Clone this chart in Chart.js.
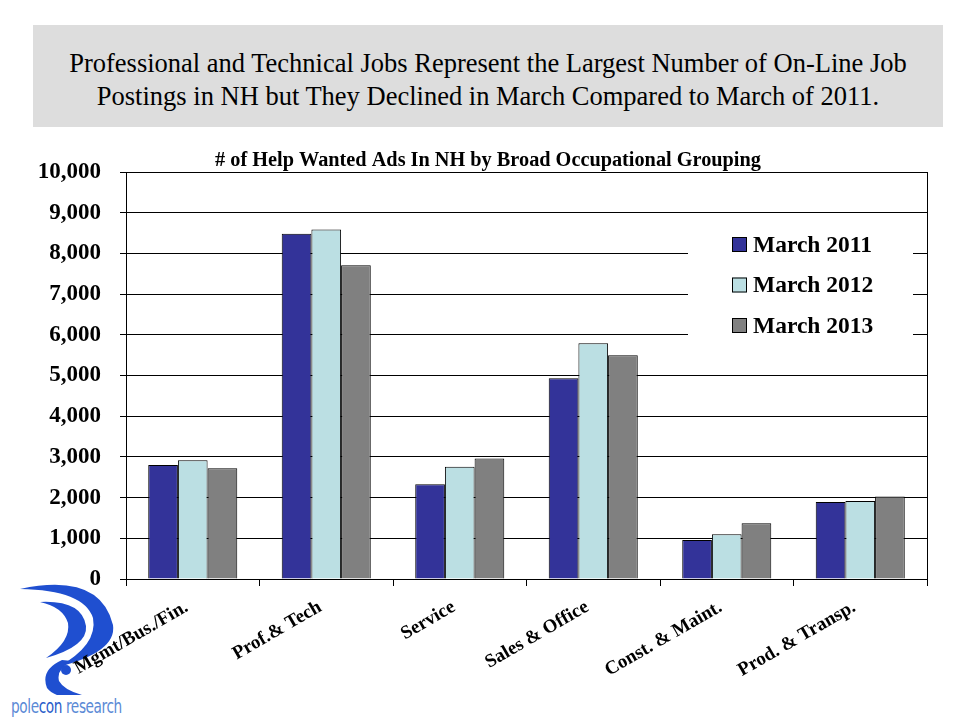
<!DOCTYPE html>
<html>
<head>
<meta charset="utf-8">
<script src="https://cdn.jsdelivr.net/npm/chart.js@4.4.0/dist/chart.umd.min.js"></script>
<style>
  html, body { margin: 0; padding: 0; background: #ffffff; }
  #page { position: relative; width: 960px; height: 720px; overflow: hidden; }
  #header {
    position: absolute; left: 33px; top: 25px; width: 910px; height: 102px;
    background: #dddddd; box-sizing: border-box; padding-top: 22px;
    font-family: "Liberation Serif", "Times New Roman", serif; font-size: 26.5px;
    line-height: 33px; text-align: center; color: #000;
  }
  #logo { position: absolute; left: 0; top: 570px; }
  #logotext {
    position: absolute; left: 11px; top: 695px;
    font-family: "Liberation Sans Narrow", "DejaVu Sans Condensed", "Open Sans", sans-serif;
    font-size: 19px; color: #5b8ad6; letter-spacing: -0.5px;
    transform: scaleX(0.8); transform-origin: left top; white-space: nowrap;
  }
  #logotext b { font-weight: normal; color: #2a5cc9; }
  canvas { position: absolute; left: 0; top: 0; }
</style>
</head>
<body>
<div id="page">
  <div id="header">Professional and Technical Jobs Represent the Largest Number of On-Line Job<br>Postings in NH but They Declined in March Compared to March of 2011.</div>
  <svg id="logo" width="140" height="125" viewBox="0 570 140 125">
    <path d="M 20 589 Q 100 572 113 625 Q 117 652 58 667 Q 98 645 93 618 Q 84 590 20 589 Z" fill="#1f4fd0"/>
    <path d="M 40 602 Q 82 600 86 626 Q 88 646 46 658 Q 71 641 68 623 Q 63 607 40 602 Z" fill="#1f4fd0"/>
    <path d="M 62 660 Q 40 670 47 688 Q 58 702 102 699 Q 66 694 59 681 Q 56 669 72 661 Z" fill="#1f4fd0"/>
    <circle cx="66" cy="670" r="5" fill="#1f4fd0"/>
  </svg>
  <div id="logotext">pole<b>con</b> research</div>
  <canvas id="c" width="960" height="720"></canvas>
</div>
<script>
const chartTitle = '# of Help Wanted Ads In NH by Broad Occupational Grouping';
const categories = ["Mgmt/Bus./Fin.", "Prof.& Tech", "Service", "Sales & Office", "Const. & Maint.", "Prod. & Transp."];
const seriesNames = ["March 2011", "March 2012", "March 2013"];
const march2011 = [2800, 8480, 2330, 4930, 960, 1890];
const march2012 = [2920, 8590, 2760, 5790, 1100, 1915];
const march2013 = [2720, 7710, 2960, 5500, 1370, 2030];
const seriesColors = ["#333399", "#BBDFE3", "#808080"];
const yTicks = [0, 1000, 2000, 3000, 4000, 5000, 6000, 7000, 8000, 9000, 10000];

const SERIF = '"Liberation Serif", "Times New Roman", serif';

const titlePlugin = {
  id: 'offsetTitle',
  afterDraw(chart) {
    const ctx = chart.ctx;
    ctx.save();
    ctx.fillStyle = '#000';
    ctx.font = 'bold 20.3px ' + SERIF;
    ctx.textAlign = 'center';
    ctx.textBaseline = 'middle';
    ctx.fillText(chartTitle, 488, 161);
    ctx.restore();
  }
};

const legendPlugin = {
  id: 'insideLegend',
  afterDraw(chart) {
    const ctx = chart.ctx;
    ctx.save();
    ctx.fillStyle = '#ffffff';
    ctx.fillRect(688, 216, 225, 144);
    chart.data.datasets.forEach((ds, i) => {
      const cy = 244.5 + i * 40.5;
      ctx.fillStyle = ds.backgroundColor;
      ctx.fillRect(732, cy - 7.5, 15, 15);
      ctx.strokeStyle = '#000';
      ctx.lineWidth = 1;
      ctx.strokeRect(732.5, cy - 7, 14, 14);
      ctx.fillStyle = '#000';
      ctx.font = 'bold 23.5px ' + SERIF;
      ctx.textBaseline = 'middle';
      ctx.textAlign = 'left';
      ctx.fillText(ds.label, 753, cy + 1);
    });
    ctx.restore();
  }
};

const borderPlugin = {
  id: 'rightBorder',
  afterDatasetsDraw(chart) {
    const a = chart.chartArea, ctx = chart.ctx;
    ctx.save();
    ctx.strokeStyle = '#000';
    ctx.lineWidth = 1;
    ctx.beginPath();
    ctx.moveTo(Math.round(a.right) + 0.5, a.top);
    ctx.lineTo(Math.round(a.right) + 0.5, a.bottom);
    ctx.stroke();
    ctx.restore();
  }
};

new Chart(document.getElementById('c'), {
  type: 'bar',
  data: {
    labels: categories,
    datasets: [
      { label: seriesNames[0], data: march2011, backgroundColor: seriesColors[0] },
      { label: seriesNames[1], data: march2012, backgroundColor: seriesColors[1] },
      { label: seriesNames[2], data: march2013, backgroundColor: seriesColors[2] }
    ].map(d => Object.assign(d, { borderColor: '#000', borderWidth: 1, categoryPercentage: 0.667, barPercentage: 1.0 }))
  },
  options: {
    responsive: false,
    animation: false,
    layout: { padding: { top: 172, left: 0, right: 33, bottom: 0 } },
    plugins: {
      legend: { display: false },
      tooltip: { enabled: false },
      title: { display: false }
    },
    scales: {
      x: {
        afterFit(scale) { scale.height = 141; },
        grid: { display: true, drawOnChartArea: false, drawTicks: true, tickLength: 7, color: '#000', offset: true },
        border: { display: true, color: '#000', width: 1 },
        ticks: {
          autoSkip: false, maxRotation: 30, minRotation: 30, padding: 10, labelOffset: -6,
          color: '#000', font: { family: SERIF, size: 19, weight: 'bold' }
        }
      },
      y: {
        min: 0, max: 10000,
        afterFit(scale) { scale.width = 126; },
        afterBuildTicks(scale) { scale.ticks = yTicks.map(v => ({ value: v })); },
        grid: { color: '#000', lineWidth: 1, tickLength: 6, drawTicks: true },
        border: { display: true, color: '#000', width: 1 },
        ticks: {
          padding: 19, color: '#000',
          font: { family: SERIF, size: 23, weight: 'bold' },
          callback: v => v.toLocaleString('en-US')
        }
      }
    }
  },
  plugins: [titlePlugin, legendPlugin, borderPlugin]
});
</script>
</body>
</html>
